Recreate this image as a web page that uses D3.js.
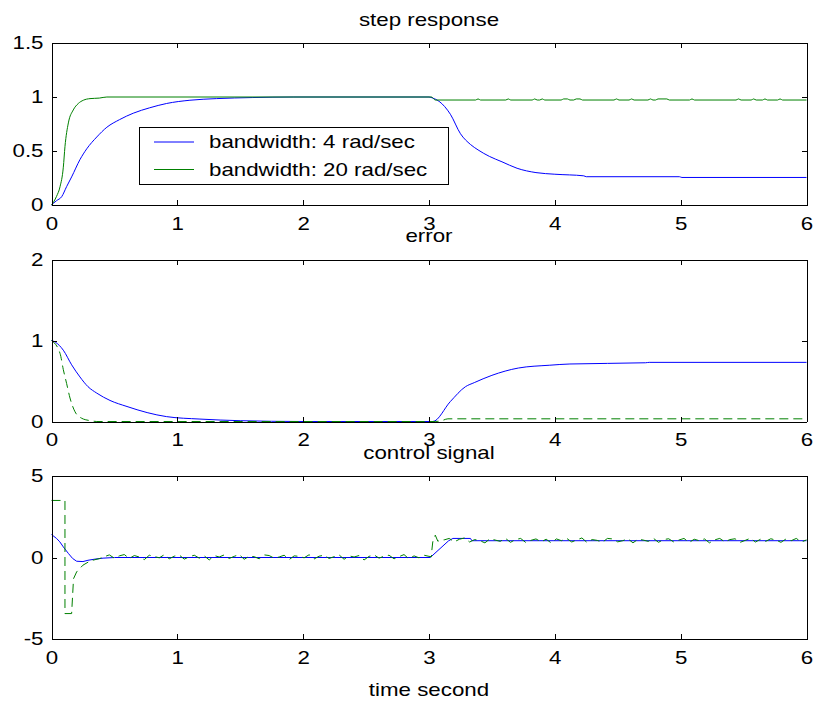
<!doctype html>
<html lang="en">
<head>
<meta charset="utf-8">
<title>step response / error / control signal</title>
<script src="https://cdnjs.cloudflare.com/ajax/libs/d3/7.8.5/d3.min.js"></script>
<style>
  body { margin: 0; background: #fff; }
  svg text { font-family: "Liberation Sans", Arial, Helvetica, sans-serif; font-size: 18px; fill: #000; }
</style>
</head>
<body>
<svg id="chart" width="816" height="702"></svg>
<script>
// values, time in seconds
const xTicks = [0, 1, 2, 3, 4, 5, 6];
const stepTicks = [0, 0.5, 1, 1.5];
const errorTicks = [0, 1, 2];
const ctrlTicks = [-5, 0, 5];
const legendLabels = ["bandwidth: 4 rad/sec", "bandwidth: 20 rad/sec"];

const stepBlue = [[0,0],[0.014,0.015],[0.04,0.04],[0.081,0.077],[0.12,0.17],[0.16,0.26],[0.226,0.42],
  [0.28,0.52],[0.36,0.63],[0.44,0.72],[0.54,0.79],[0.65,0.85],[0.78,0.90],[0.915,0.94],[1.1,0.97],
  [1.31,0.985],[1.6,0.995],[1.92,1.0],[3.0,1.0],[3.03,0.99],[3.08,0.96],[3.17,0.84],[3.25,0.66],
  [3.33,0.56],[3.39,0.51],[3.48,0.45],[3.58,0.40],[3.7,0.34],[3.85,0.30],[4.0,0.285],[4.23,0.27],
  [4.25,0.262],[4.99,0.262],[5.01,0.255],[6,0.255]];

const stepGreen = [[0,0],[0.04,0.08],[0.068,0.17],[0.094,0.35],[0.107,0.54],[0.134,0.76],[0.173,0.88],
  [0.213,0.94],[0.253,0.97],[0.306,0.985],[0.38,0.99],[0.44,1.0],[3.02,1.0],[3.05,0.972],
  [3.37,0.972],[3.39,0.982],[3.41,0.972],[3.61,0.972],[3.63,0.982],[3.65,0.972],[3.82,0.972],
  [3.84,0.982],[3.86,0.972],[3.88,0.972],[3.90,0.982],[3.92,0.972],[4.05,0.972],[4.07,0.982],
  [4.10,0.982],[4.12,0.972],[4.15,0.972],[4.17,0.982],[4.20,0.982],[4.22,0.972],[4.47,0.972],
  [4.49,0.982],[4.51,0.972],[4.59,0.972],[4.61,0.982],[4.63,0.972],[4.74,0.972],[4.76,0.982],
  [4.78,0.972],[4.80,0.972],[4.82,0.982],[4.89,0.982],[4.91,0.972],[5.07,0.972],[5.09,0.982],
  [5.11,0.972],[5.44,0.972],[5.46,0.982],[5.48,0.972],[5.56,0.972],[5.58,0.982],[5.60,0.972],
  [5.65,0.972],[5.67,0.982],[5.69,0.972],[5.77,0.972],[5.79,0.982],[5.81,0.972],[6,0.972]];

const errorBlue = [[0,1],[0.03,0.98],[0.094,0.88],[0.16,0.70],[0.226,0.55],[0.29,0.43],[0.36,0.35],
  [0.465,0.26],[0.6,0.185],[0.76,0.11],[0.915,0.06],[1.18,0.03],[1.5,0.01],[2.0,0],[3.03,0],
  [3.17,0.247],[3.29,0.43],[3.36,0.48],[3.5,0.57],[3.71,0.66],[3.96,0.695],[4.12,0.71],
  [4.72,0.725],[4.75,0.73],[6,0.73]];

const errorGreen = [[0,1],[0.068,0.84],[0.094,0.64],[0.12,0.47],[0.147,0.29],[0.187,0.12],
  [0.24,0.04],[0.31,0.01],[0.36,0],[3.05,0],[3.1,0.01],[3.15,0.033],[6,0.033]];

const ctrlBlue = [[0,1.41],[0.04,1.17],[0.066,0.96],[0.094,0.65],[0.134,0.25],[0.168,-0.06],
  [0.2,-0.23],[0.25,-0.25],[0.29,-0.17],[0.345,-0.1],[0.41,-0.04],[0.5,0],[3.01,0],[3.155,1.02],
  [3.19,1.17],[3.33,1.17],[3.34,1.03],[6,1.03]];

const ctrlGreenStart = [[0,3.5],[0.107,3.5],[0.107,-3.44],[0.16,-3.44],[0.175,-1.3],[0.2,-0.88],
  [0.25,-0.47],[0.31,-0.2],[0.385,-0.06]];
// sampled noise, 0.42 s .. 3.0 s
const ctrlGreenNoiseA = [0.05,0.16,-0.04,0.10,0.18,-0.06,0.12,0.03,-0.13,0.14,0.06,-0.02,0.17,-0.08,
  0.08,0.15,-0.10,0.04,0.14,-0.04,0.10,-0.15,0.12,0.03,0.16,-0.06,0.07,0.18,-0.11,0.08,0.05,-0.08,
  0.16,0.12,-0.04,0.03,0.14,-0.13,0.10,0.07,-0.02,0.17,-0.09,0.08,0.14,-0.06,0.05,0.16,-0.11,0.10,
  0.03,0.12,-0.15,0.07,0.16,-0.04,0.08,0.14,-0.08,0.05,0.18,-0.09,0.10,-0.02,0.14,0.07];
const ctrlGreenJump = [[3.02,0.05],[3.02,0.26],[3.03,0.96],[3.05,1.37],[3.07,1.0],[3.1,1.08]];
// sampled noise, 3.12 s .. 6.0 s
const ctrlGreenNoiseB = [1.08,1.17,0.96,1.12,1.20,0.95,1.10,1.03,0.90,1.15,1.07,0.99,1.18,0.93,1.10,
  1.17,0.92,1.05,1.14,0.96,1.12,0.89,1.14,1.03,1.18,0.95,1.08,1.20,0.92,1.10,1.05,0.93,1.17,1.14,
  0.96,1.03,1.15,0.90,1.12,1.07,0.99,1.18,0.93,1.10,1.15,0.95,1.07,1.17,0.92,1.12,1.03,1.14,0.90,
  1.08,1.17,0.96,1.10,1.15,0.93,1.05,1.18,0.95,1.12,0.99,1.15,1.07,0.93,1.14,1.03,1.17,0.95,1.08];

const BLUE = "#0000ff", GREEN = "#008000";
const SX = 1.24;   // the original figure's text is stretched sideways

function sampled(vals, t0, t1) {
  const dt = (t1 - t0) / (vals.length - 1);
  return vals.map((v, i) => [t0 + i * dt, v]);
}
const ctrlGreen = ctrlGreenStart
  .concat(sampled(ctrlGreenNoiseA, 0.42, 3.0))
  .concat(ctrlGreenJump)
  .concat(sampled(ctrlGreenNoiseB, 3.12, 6.0));

const smooth = d3.curveMonotoneX, straight = d3.curveLinear;
const panels = [
  { title: "step response", top: 43, bottom: 205, domain: [0, 1.5], ticks: stepTicks,
    series: [{ d: stepBlue, c: BLUE, k: smooth }, { d: stepGreen, c: GREEN, k: smooth }] },
  { title: "error", top: 259.5, bottom: 421.5, domain: [0, 2], ticks: errorTicks,
    series: [{ d: errorBlue, c: BLUE, k: smooth }, { d: errorGreen, c: GREEN, k: smooth, dash: "9,5" }] },
  { title: "control signal", top: 476, bottom: 639, domain: [-5, 5], ticks: ctrlTicks,
    series: [{ d: ctrlBlue, c: BLUE, k: straight }, { d: ctrlGreen, c: GREEN, k: straight, dash: "9,5" }] }
];

const svg = d3.select("#chart");
const x = d3.scaleLinear().domain([0, 6]).range([51.5, 806.5]);
const midX = (x.range()[0] + x.range()[1]) / 2;

function stretch(sel) {
  sel.each(function () {
    const t = d3.select(this);
    const x0 = +t.attr("x") || 0;
    t.attr("x", x0 / SX).attr("transform", `scale(${SX},1)`);
  });
}

panels.forEach(p => {
  const y = d3.scaleLinear().domain(p.domain).range([p.bottom, p.top]);
  const g = svg.append("g");

  p.series.forEach(s => {
    const line = d3.line().x(d => x(d[0])).y(d => y(d[1])).curve(s.k);
    g.append("path")
      .attr("d", line(s.d))
      .attr("fill", "none")
      .attr("stroke", s.c)
      .attr("stroke-width", 1)
      .attr("stroke-dasharray", s.dash || null);
  });

  const axB = g.append("g").attr("transform", `translate(0,${p.bottom})`)
    .call(d3.axisBottom(x).tickValues(xTicks).tickSizeInner(-5).tickSizeOuter(0)
      .tickPadding(12).tickFormat(d => String(d)));
  g.append("g").attr("transform", `translate(0,${p.top})`)
    .call(d3.axisTop(x).tickValues(xTicks).tickSizeInner(-5).tickSizeOuter(0).tickFormat(""));
  const axL = g.append("g").attr("transform", `translate(${x.range()[0]},0)`)
    .call(d3.axisLeft(y).tickValues(p.ticks).tickSizeInner(-5).tickSizeOuter(0)
      .tickPadding(8).tickFormat(d => String(d)));
  g.append("g").attr("transform", `translate(${x.range()[1]},0)`)
    .call(d3.axisRight(y).tickValues(p.ticks).tickSizeInner(-5).tickSizeOuter(0).tickFormat(""));

  g.selectAll(".domain, .tick line").attr("stroke", "#000").attr("shape-rendering", "crispEdges");
  stretch(axB.selectAll("text"));
  stretch(axL.selectAll("text"));

  g.append("text")
    .attr("x", midX).attr("y", p.top - 17)
    .attr("text-anchor", "middle")
    .text(p.title)
    .call(stretch);
});

svg.append("text")
  .attr("x", midX).attr("y", 696)
  .attr("text-anchor", "middle")
  .text("time second")
  .call(stretch);

// legend of the top panel
const leg = svg.append("g");
leg.append("rect")
  .attr("x", 139.5).attr("y", 127.5).attr("width", 309).attr("height", 57)
  .attr("fill", "#fff").attr("stroke", "#000").attr("shape-rendering", "crispEdges");
[BLUE, GREEN].forEach((c, i) => {
  const ly = 142 + i * 27.5;
  leg.append("line").attr("x1", 154).attr("x2", 194).attr("y1", ly).attr("y2", ly)
    .attr("stroke", c).attr("stroke-width", 1);
  leg.append("text").attr("x", 209).attr("y", ly + 6.5).text(legendLabels[i]).call(stretch);
});
</script>
</body>
</html>
